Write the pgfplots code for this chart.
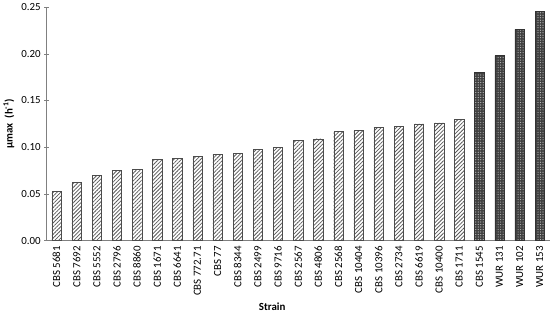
\documentclass[border=0pt]{standalone}
\usepackage{fontspec}
\setmainfont{Carlito}
\usepackage{pgfplots}
\pgfplotsset{compat=1.18}
\usetikzlibrary{patterns.meta}
\begin{document}
\begin{tikzpicture}
\begin{axis}[
    scale only axis,
    width=485pt, height=225pt,
    ybar, bar width=9pt,
    xmin=-0.5, xmax=24.5,
    ymin=0, ymax=0.25,
    ytick={0,0.05,...,0.25},
    yticklabel style={/pgf/number format/fixed, /pgf/number format/fixed zerofill, /pgf/number format/precision=2},
    /pgf/number format/assume math mode=true,
    xtick={0,...,24},
    xticklabels={CBS 5681,CBS 7692,CBS 5552,CBS 2796,CBS 8860,CBS 1671,CBS 6641,CBS 772.71,CBS 77,CBS 8344,CBS 2499,CBS 9716,CBS 2567,CBS 4806,CBS 2568,CBS 10404,CBS 10396,CBS 2734,CBS 6619,CBS 10400,CBS 1711,CBS 1545,WUR 131,WUR 102,WUR 153},
    xticklabel style={rotate=90, anchor=east, font=\fontsize{10.5}{11}\selectfont},
    yticklabel style={font=\fontsize{10.5}{11}\selectfont},
    x tick style={draw=none},
    minor xtick={-0.5,0.5,...,24.5},
    minor tick length=4pt,
    major tick length=4pt,
    tick align=outside,
    y tick style={black!50},
    minor x tick style={black!50},
    axis lines=left,
    axis line style={-, black!50},
    xlabel={\textbf{Strain}},
    ylabel={\textbf{µmax\ \ (h\textsuperscript{-1})}},
    xlabel style={font=\fontsize{10.5}{11}\selectfont, xshift=-25pt},
    ylabel style={font=\fontsize{10.5}{11}\selectfont},
    every axis plot/.append style={bar shift=0pt},
]
\addplot[draw=black!70, pattern={Lines[angle=45, distance=2.6pt, line width=0.75pt]}, pattern color=black!65] coordinates {
(0,0.053) (1,0.062) (2,0.070) (3,0.075) (4,0.076) (5,0.087) (6,0.088) (7,0.090) (8,0.092) (9,0.093) (10,0.098) (11,0.100) (12,0.107) (13,0.109) (14,0.117) (15,0.118) (16,0.121) (17,0.122) (18,0.125) (19,0.126) (20,0.130)
};
\addplot[draw=black!80, fill=black!75, postaction={pattern={Dots[distance=2.4pt, radius=0.55pt]}, pattern color=white!75!black}] coordinates {
(21,0.180) (22,0.198) (23,0.226) (24,0.245)
};
\end{axis}
\end{tikzpicture}
\end{document}
